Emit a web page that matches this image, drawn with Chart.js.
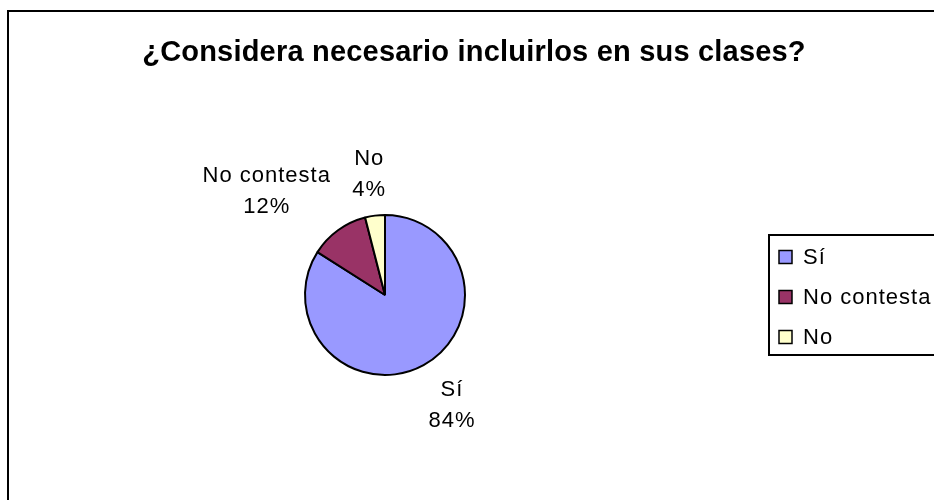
<!DOCTYPE html>
<html>
<head>
<meta charset="utf-8">
<script src="https://cdn.jsdelivr.net/npm/chart.js@4"></script>
<style>
  body { margin: 0; background: #fff; overflow: hidden; }
  .frame { position: absolute; left: 7px; top: 10px; width: 1000px; height: 1000px; border: 2px solid #000; }
  .wrap { position: absolute; left: 0; top: 0; width: 934px; height: 500px; }
</style>
</head>
<body>
<div class="frame"></div>
<div class="wrap"><canvas id="pie" width="934" height="500"></canvas></div>
<script>
const categories = ['Sí', 'No contesta', 'No'];
const values = [84, 12, 4];
const colors = ['#9999FF', '#993366', '#FFFFCC'];
const titleText = '¿Considera necesario incluirlos en sus clases?';

const FONT = '"Liberation Sans", Arial, sans-serif';

// title, outside slice labels and the boxed legend
const decorations = {
    id: 'decorations',
    afterDraw(chart) {
        const ctx = chart.ctx;
        ctx.save();
        ctx.fillStyle = '#000';
        ctx.font = 'bold 29px ' + FONT;
        ctx.letterSpacing = '0.2px';
        ctx.textAlign = 'center';
        ctx.textBaseline = 'alphabetic';
        ctx.fillText(titleText, 474, 61);

        ctx.font = '22px ' + FONT;
        ctx.letterSpacing = '1px';
        ctx.textBaseline = 'middle';
        const total = values.reduce((a, b) => a + b, 0);
        const clamp = v => Math.max(-1, Math.min(1, v));
        chart.getDatasetMeta(0).data.forEach((arc, i) => {
            const {x, y, startAngle, endAngle, outerRadius} =
                arc.getProps(['x', 'y', 'startAngle', 'endAngle', 'outerRadius'], true);
            const mid = (startAngle + endAngle) / 2;
            const dx = Math.cos(mid), dy = Math.sin(mid);
            const px = x + dx * (outerRadius + 12);
            const py = y + dy * (outerRadius + 12);
            const lines = [categories[i], Math.round(values[i] / total * 100) + '%'];
            const w = Math.max(...lines.map(s => ctx.measureText(s).width));
            const lh = 31, h = lh + 28;
            const cx = px + w / 2 * clamp(dx * 2);
            const cy = py + h / 2 * clamp(dy * 2);
            ctx.fillText(lines[0], cx, cy - lh / 2);
            ctx.fillText(lines[1], cx, cy + lh / 2);
        });

        ctx.textAlign = 'left';
        ctx.strokeStyle = '#000';
        ctx.lineWidth = 2;
        ctx.strokeRect(769, 235, 200, 120);
        ctx.lineWidth = 1.5;
        categories.forEach((c, i) => {
            const y = 257 + i * 40;
            ctx.fillStyle = colors[i];
            ctx.fillRect(779, y - 6.5, 13, 13);
            ctx.strokeRect(779, y - 6.5, 13, 13);
            ctx.fillStyle = '#000';
            ctx.fillText(c, 803, y + 1);
        });
        ctx.restore();
    }
};

new Chart(document.getElementById('pie'), {
    type: 'pie',
    data: {
        labels: categories,
        datasets: [{
            data: values,
            backgroundColor: colors,
            borderColor: '#000',
            borderWidth: 2
        }]
    },
    options: {
        responsive: false,
        animation: false,
        layout: { padding: { left: 304, right: 468, top: 213, bottom: 123 } },
        plugins: {
            legend: { display: false },
            title: { display: false },
            tooltip: { enabled: false }
        }
    },
    plugins: [decorations]
});
</script>
</body>
</html>
